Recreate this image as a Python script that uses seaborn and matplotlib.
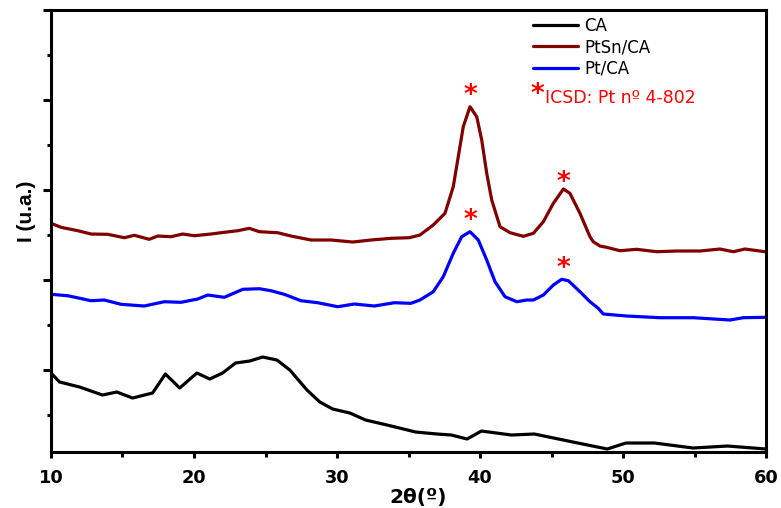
import matplotlib
matplotlib.use('Agg')
import matplotlib.pyplot as plt
import seaborn as sns
from matplotlib.ticker import MultipleLocator

# 2theta (deg) and intensity (u.a.)
ca_x = [10.0, 10.6, 12.0, 13.6, 14.6, 15.7, 17.1, 18.0, 19.0, 20.2, 21.1, 22.0, 22.9, 23.9,
        24.8, 25.8, 26.7, 27.9, 28.8, 29.7, 30.9, 32.0, 33.5, 35.5, 37.0, 38.0, 39.1, 40.1,
        42.2, 43.8, 46.5, 48.9, 50.2, 52.2, 54.9, 57.3, 60.0]
ca_y = [87, 78, 73, 65, 68, 62, 67, 86, 72, 87, 81, 87, 97, 99, 103, 100, 90, 70, 58, 51,
        47, 40, 35, 28, 26, 25, 21, 29, 25, 26, 18, 11, 17, 17, 12, 14, 11]

ptsn_x = [10.0, 10.7, 11.87, 12.8, 13.96, 15.13, 15.83, 16.87, 17.46, 18.39, 19.21, 20.02,
          21.19, 22.12, 23.06, 23.87, 24.57, 25.85, 26.78, 28.18, 29.58, 31.1, 32.38, 33.78,
          35.06, 35.8, 36.73, 37.55, 38.13, 38.48, 38.83, 39.3, 39.77, 40.12, 40.47, 40.82,
          41.4, 42.1, 43.03, 43.73, 44.43, 45.13, 45.83, 46.29, 46.99, 47.69, 47.92, 48.39,
          48.85, 49.79, 50.95, 52.35, 53.75, 55.38, 56.78, 57.71, 58.53, 59.93, 60.0]
ptsn_y = [236.7, 232.7, 229.3, 226, 225.7, 222.3, 224.7, 220.7, 224, 223.3, 226, 224.3,
          226, 227.7, 229.3, 231.7, 228.3, 227.3, 224, 220, 220, 218, 220, 221.7,
          222.3, 225, 235, 246.7, 273.3, 303.3, 333.3, 353.3, 343.3, 320, 286.7, 260,
          233.3, 227.3, 223.7, 226.7, 238.3, 256.7, 271, 266.7, 246.7, 223.3, 218.3, 214,
          212.7, 209.3, 210.7, 208.3, 209, 209, 211, 208.3, 211, 208.3, 208.3]

pt_x = [10.0, 11.17, 12.8, 13.73, 14.9, 16.52, 17.92, 19.09, 20.26, 20.96, 22.12, 23.41,
        24.57, 25.38, 26.31, 27.48, 28.65, 30.05, 31.21, 32.61, 34.01, 35.17, 35.8, 36.73,
        37.43, 38.13, 38.72, 39.3, 39.88, 40.47, 41.05, 41.75, 42.57, 43.27, 43.73, 44.43,
        45.13, 45.71, 46.18, 46.99, 47.69, 48.27, 48.62, 50.26, 52.59, 54.92, 57.48, 58.41,
        59.93, 60.0]
pt_y = [165.7, 164.3, 159.3, 160, 155.7, 154, 158.3, 157.7, 161, 165, 162.7, 170.7,
        171.3, 169.3, 165.7, 159.3, 157.3, 153.3, 156, 154, 157.3, 156.7, 160, 168.3,
        183.3, 206.7, 223.3, 228.3, 220, 200, 178.3, 163.3, 158.3, 160, 160, 165,
        175, 180.7, 179.3, 168.3, 158.3, 151.7, 146, 144, 142.3, 142.3, 140, 142.3,
        142.7, 142.7]

# peaks marked with * (ICSD Pt 4-802)
star_x = [39.3, 45.8, 39.3, 45.8]
star_y = [370, 283, 245, 197]

sns.set_style('ticks')
plt.rcParams['font.family'] = ['DejaVu Sans']
plt.rcParams.update({'text.color': 'black', 'axes.labelcolor': 'black',
                     'xtick.color': 'black', 'ytick.color': 'black',
                     'axes.edgecolor': 'black'})

fig = plt.figure(figsize=(7.81, 5.08), dpi=100)
ax = fig.add_axes([0.0653, 0.1102, 0.9155, 0.8701])

lw = 2.3
sns.lineplot(x=ca_x, y=ca_y, color='black', lw=lw, label='CA', ax=ax)
sns.lineplot(x=ptsn_x, y=ptsn_y, color='#800000', lw=lw, label='PtSn/CA', ax=ax)
sns.lineplot(x=pt_x, y=pt_y, color='#0000ff', lw=lw, label='Pt/CA', ax=ax)

for sx, sy in zip(star_x, star_y):
    ax.annotate('*', (sx, sy), xytext=(0, -4), textcoords='offset points', color='red',
                fontsize=19, fontweight='bold', ha='center', va='center')

ax.text(0.671, 0.808, '*', color='red', fontsize=19, fontweight='bold', ha='left',
        va='center', transform=ax.transAxes)
ax.text(0.691, 0.800, 'ICSD: Pt nº 4-802', color='red', fontsize=12.5, ha='left',
        va='center', transform=ax.transAxes)

ax.set_xlim(10, 60)
ax.set_ylim(8, 450)
ax.xaxis.set_major_locator(MultipleLocator(10))
ax.xaxis.set_minor_locator(MultipleLocator(5))
ax.yaxis.set_major_locator(MultipleLocator(90))
ax.yaxis.set_minor_locator(MultipleLocator(45))
ax.set_yticklabels([])

for side in ['top', 'right', 'left', 'bottom']:
    ax.spines[side].set_linewidth(2.2)
ax.tick_params(axis='y', which='major', direction='out', length=6, width=2.2)
ax.tick_params(axis='y', which='minor', direction='out', length=3, width=2.2)
ax.tick_params(axis='x', which='major', direction='out', length=4, width=2.2,
               labelsize=12.8, pad=8)
ax.tick_params(axis='x', which='minor', direction='out', length=3.5, width=2.2)
for lab in ax.get_xticklabels():
    lab.set_fontweight('bold')

ax.set_xlabel('2θ(º)', fontsize=14.5, fontweight='bold', va='top')
ax.xaxis.set_label_coords(0.513, -0.081)
ax.set_ylabel('I (u.a.)', fontsize=15, fontweight='bold', family='Liberation Sans')
ax.yaxis.set_label_coords(-0.021, 0.545)

leg = ax.legend(loc='upper left', bbox_to_anchor=(0.665, 1.0), frameon=False,
                fontsize=12, handlelength=2.7, handletextpad=0.36, labelspacing=0.2,
                borderaxespad=0)

fig.savefig('out.png', dpi=100)
